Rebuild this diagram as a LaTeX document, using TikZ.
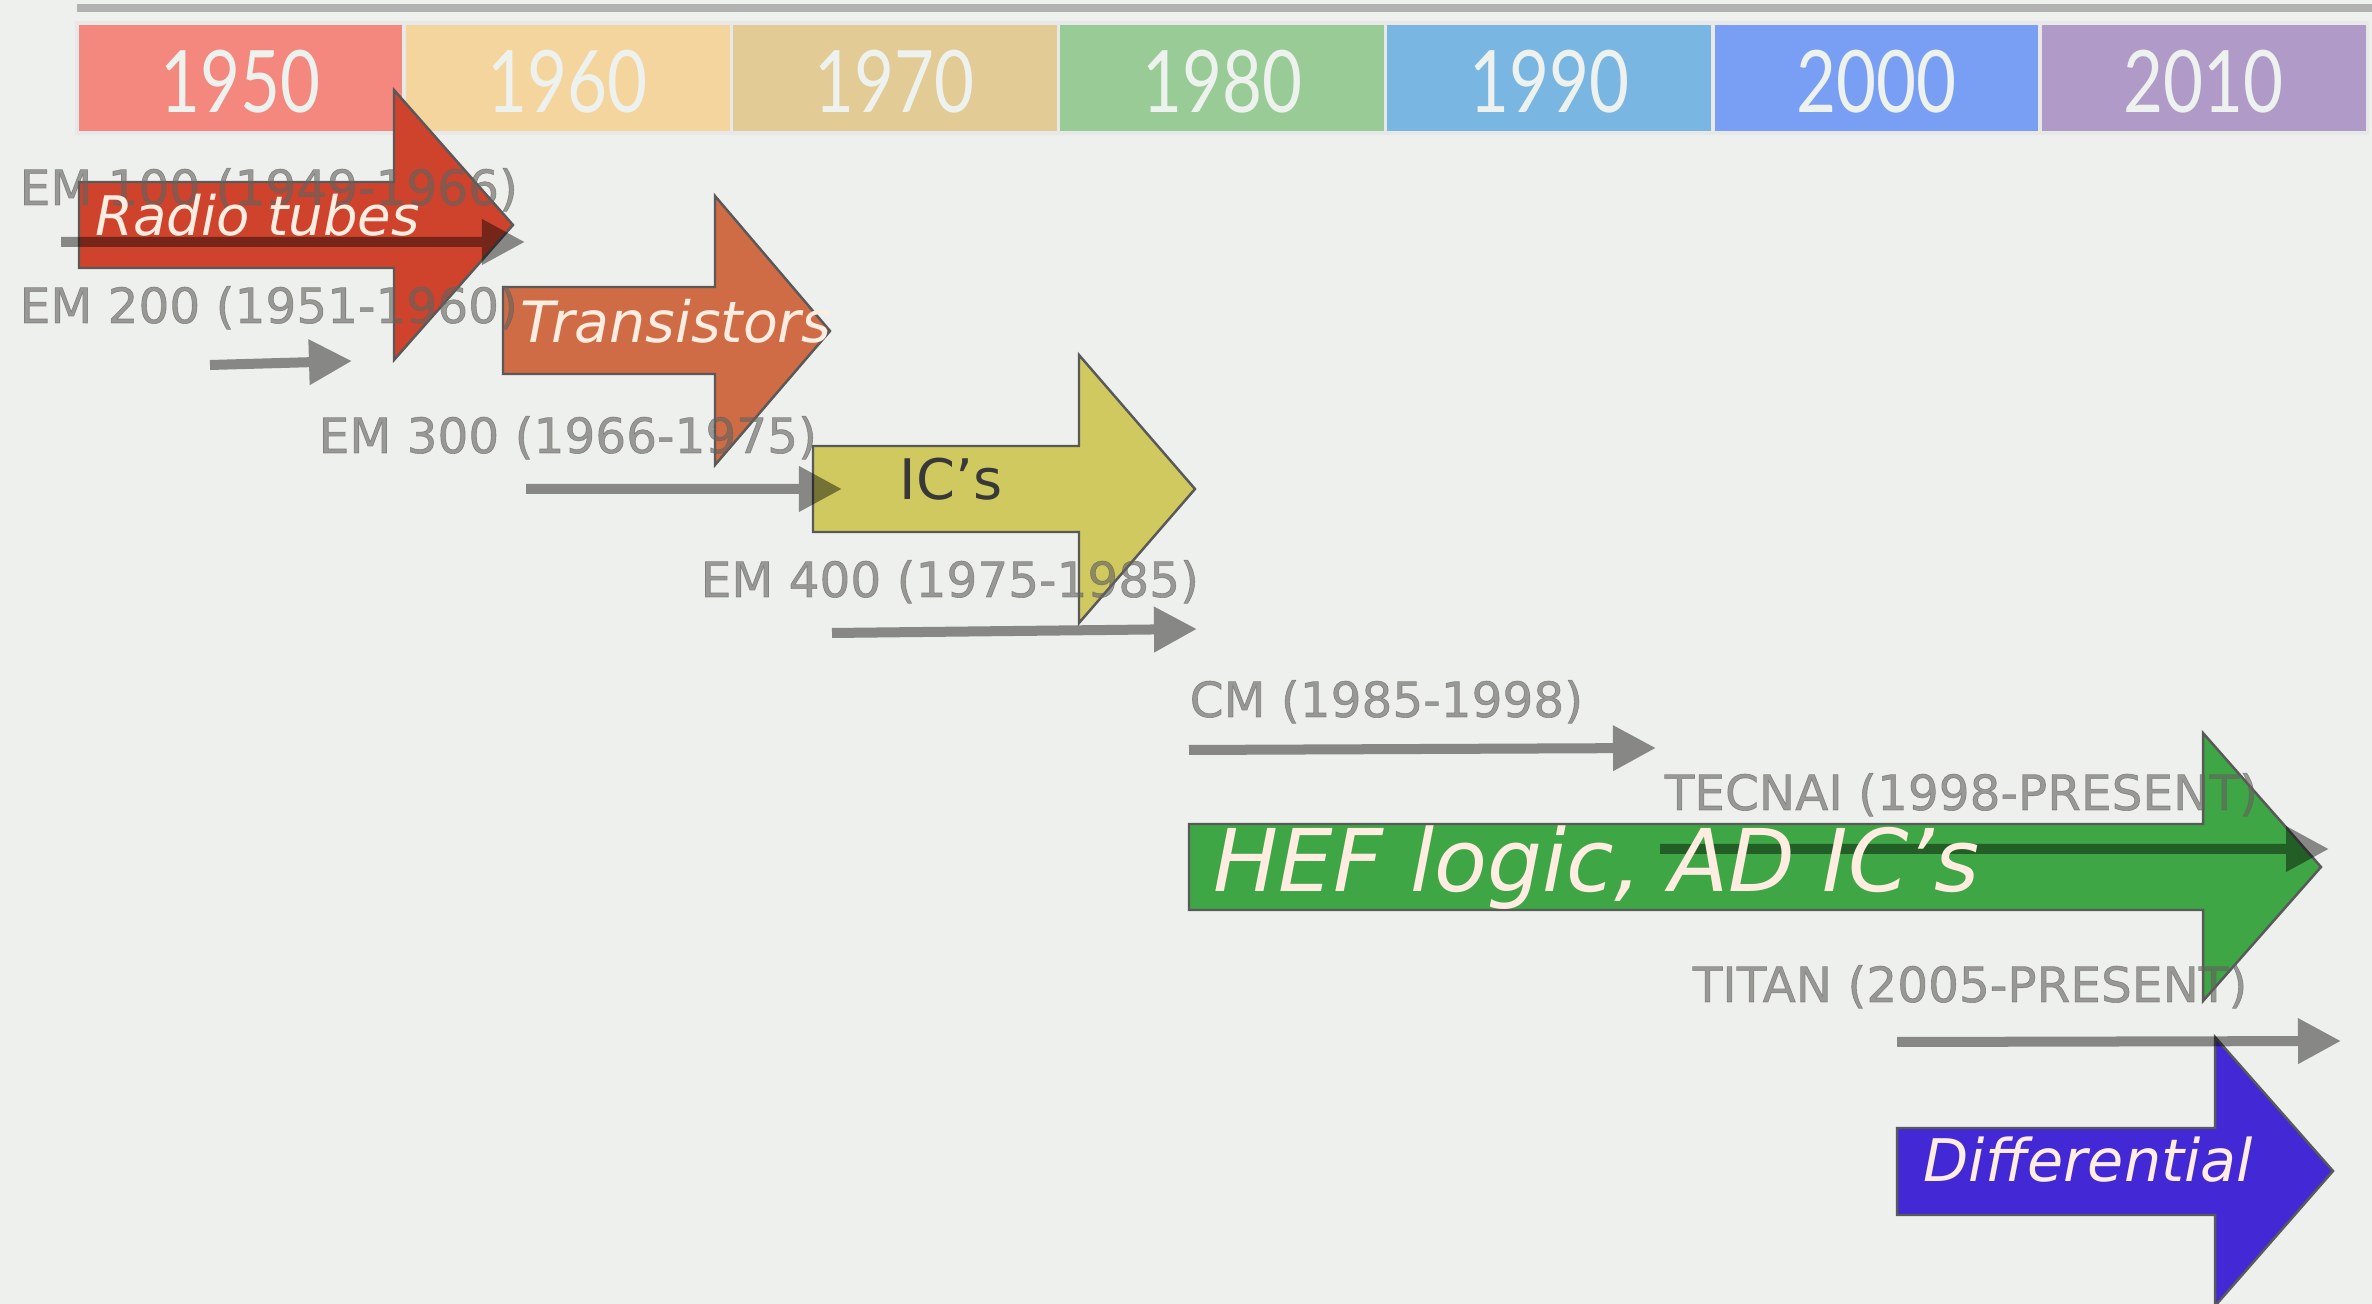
\documentclass[tikz,border=0pt]{standalone}
\usepackage{fontspec}
\usetikzlibrary{arrows.meta,positioning}
\newfontfamily\yearfont{Lato}[FakeStretch=0.8]
\newfontfamily\labelfont{DejaVu Sans}
\newfontfamily\modelfont{DejaVu Sans}[FakeBold=1.2]

\definecolor{bg}{HTML}{EEF0ED}
\definecolor{c1950}{HTML}{F4887F}
\definecolor{c1960}{HTML}{F5D59E}
\definecolor{c1970}{HTML}{E2CB95}
\definecolor{c1980}{HTML}{98CB95}
\definecolor{c1990}{HTML}{79B6E1}
\definecolor{c2000}{HTML}{789FF3}
\definecolor{c2010}{HTML}{B09BC8}
\definecolor{yeartext}{HTML}{EEF2EE}
\definecolor{tubered}{HTML}{CF432D}
\definecolor{transorange}{HTML}{D06C45}
\definecolor{icyellow}{HTML}{CFC95F}
\definecolor{hefgreen}{HTML}{3EA645}
\definecolor{diffblue}{HTML}{4329D6}
\definecolor{cream}{HTML}{FFEDE2}
\definecolor{labelgray}{HTML}{64625F}

\begin{document}
\begin{tikzpicture}[x=0.01cm,y=-0.01cm,>=Stealth,node distance=0pt]
  \tikzstyle{year}=[draw=white!82!gray,line width=1pt,fill=#1,minimum width=3.27cm,minimum height=1.1cm,
    inner sep=0pt,outer sep=0pt,text=yeartext,text height=0.69cm,text depth=0pt,
    font=\yearfont\fontsize{24.5}{25}\selectfont]
  \tikzstyle{block}=[draw=black!65,line width=0.7pt]
  \tikzstyle{hand}=[anchor=base west,inner sep=0pt,text=cream]
  \tikzstyle{era}=[black,line width=0.1cm,-{Triangle[length=0.43cm,width=0.43cm]}]
  \tikzstyle{model}=[anchor=base west,inner sep=0pt,text=labelgray,text opacity=0.62,
    font=\modelfont\fontsize{13.8}{14}\selectfont]

  % Background
  \useasboundingbox (0,0) rectangle (2372,1304);
  \clip (0,0) rectangle (2372,1304);
  \fill[bg] (0,0) rectangle (2372,1304);
  \draw[black!30,line width=2pt] (77,8) -- (2372,8);

  % Decades
  \node[year=c1950] (y1950) at (240.5,78) {1950};
  \node[year=c1960,right=of y1950] (y1960) {1960};
  \node[year=c1970,right=of y1960] (y1970) {1970};
  \node[year=c1980,right=of y1970] (y1980) {1980};
  \node[year=c1990,right=of y1980] (y1990) {1990};
  \node[year=c2000,right=of y1990] (y2000) {2000};
  \node[year=c2010,right=of y2000] (y2010) {2010};

  % Technology arrows
  \draw[block,fill=tubered] (79,182) -- (394,182) -- (394,90) -- (513,225) -- (394,360) -- (394,268) -- (79,268) -- cycle;
  \draw[block,fill=transorange] (503,287) -- (715,287) -- (715,196) -- (830,331) -- (715,465) -- (715,374) -- (503,374) -- cycle;
  \draw[block,fill=icyellow] (813,446) -- (1079,446) -- (1079,355) -- (1195,489) -- (1079,623) -- (1079,532) -- (813,532) -- cycle;
  \draw[block,fill=hefgreen] (1189,824) -- (2203,824) -- (2203,733) -- (2321,867) -- (2203,1001) -- (2203,910) -- (1189,910) -- cycle;
  \draw[block,fill=diffblue] (1897,1128) -- (2215,1128) -- (2215,1037) -- (2333,1171) -- (2215,1306) -- (2215,1215) -- (1897,1215) -- cycle;

  % Microscope series
  \coordinate (em100a) at (61,242);   \coordinate (em100b) at (525,242);
  \coordinate (em200a) at (210,365);  \coordinate (em200b) at (352,361);
  \coordinate (em300a) at (526,489);  \coordinate (em300b) at (842,489);
  \coordinate (em400a) at (832,633);  \coordinate (em400b) at (1197,629);
  \coordinate (cma) at (1189,750);    \coordinate (cmb) at (1656,748);
  \coordinate (tecnaia) at (1660,849); \coordinate (tecnaib) at (2329,849);
  \coordinate (titana) at (1897,1042); \coordinate (titanb) at (2341,1041);
  \begin{scope}[transparency group,opacity=0.43]
    \draw[era] (em100a) -- (em100b);
    \draw[era] (em200a) -- (em200b);
    \draw[era] (em300a) -- (em300b);
    \draw[era] (em400a) -- (em400b);
    \draw[era] (cma) -- (cmb);
    \draw[era] (tecnaia) -- (tecnaib);
    \draw[era] (titana) -- (titanb);
  \end{scope}

  \node[model] (em100) at (19,205) {EM 100 (1949-1966)};
  \node[model] (em200) at (19,323) {EM 200 (1951-1960)};
  \node[model] (em300) at (318,453) {EM 300 (1966-1975)};
  \node[model] (em400) at (700,597) {EM 400 (1975-1985)};
  \node[model] (cm) at (1189,717) {CM (1985-1998)};
  \node[model] (tecnai) at (1664,810) {TECNAI (1998-PRESENT)};
  \node[model] (titan) at (1692,1002) {TITAN (2005-PRESENT)};

  % Labels
  \node[hand,font=\labelfont\itshape\fontsize{15.5}{16}\selectfont] (tubes) at (95,236) {Radio tubes};
  \node[hand,font=\labelfont\itshape\fontsize{16.2}{16}\selectfont] (trans) at (520,343) {Transistors};
  \node[hand,text=black!78,font=\labelfont\fontsize{15.9}{16}\selectfont] (ics) at (899,500) {IC’s};
  \node[hand,font=\labelfont\itshape\fontsize{24.6}{25}\selectfont] (hef) at (1213,892) {HEF logic, AD IC’s};
  \node[hand,font=\labelfont\itshape\fontsize{16.7}{17}\selectfont] (diff) at (1923,1182) {Differential};
\end{tikzpicture}
\end{document}
